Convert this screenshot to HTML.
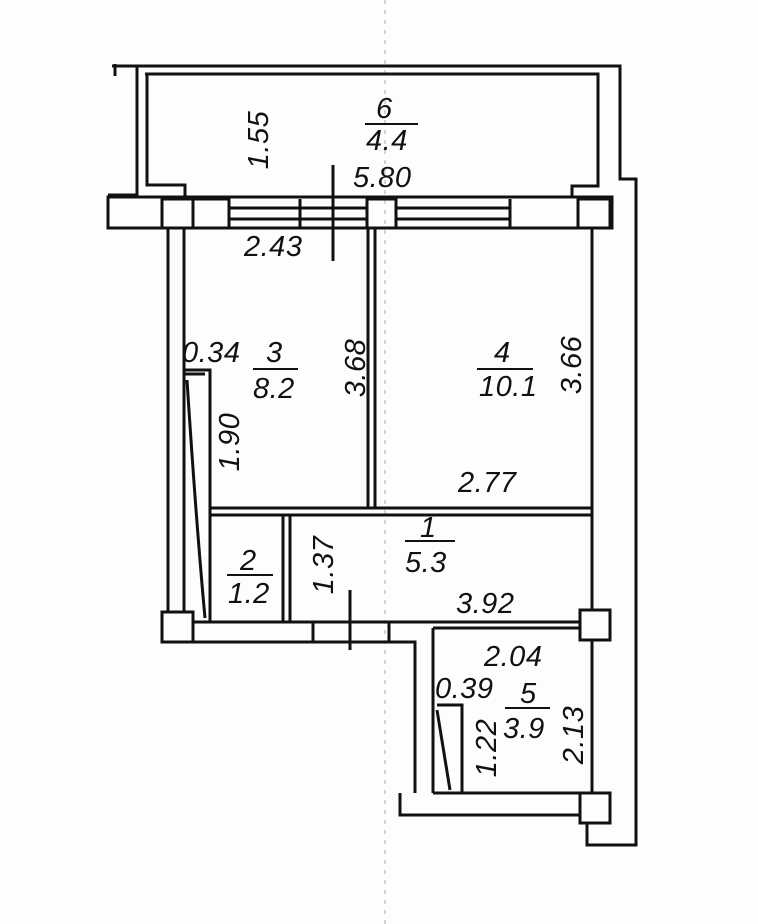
<!DOCTYPE html>
<html><head><style>
html,body{margin:0;padding:0;background:#fff;}
svg{display:block}
text{font-family:"Liberation Sans",sans-serif;font-style:italic;font-size:29px;fill:#111;letter-spacing:0.5px}
</style></head><body>
<svg width="758" height="924" viewBox="0 0 758 924" xmlns="http://www.w3.org/2000/svg">
<rect width="758" height="924" fill="#fdfdfd"/>
<line x1="385" y1="0" x2="385" y2="924" stroke="#aaa" stroke-width="1" stroke-dasharray="4,6"/>
<g fill="none" stroke="#111" stroke-width="3">
<polyline points="112,66 620,66 620,179 636,179 636,845 587,845 587,823"/>
<polyline points="145,74 598,74 598,186 572,186 572,197"/>
<polyline points="137,66 137,195 108,195"/>
<polyline points="147,74 147,185 185,185 185,197"/>
<line x1="115" y1="64" x2="115" y2="76"/>
<rect x="108" y="197" width="504" height="31"/>
<rect x="162" y="199" width="31" height="29"/>
<rect x="193" y="199" width="36" height="29"/>
<rect x="367" y="199" width="29" height="29"/>
<rect x="578" y="199" width="32" height="29"/>
<line x1="229" y1="208" x2="367" y2="208"/><line x1="229" y1="219" x2="367" y2="219"/>
<line x1="397" y1="208" x2="510" y2="208"/><line x1="397" y1="219" x2="510" y2="219"/>
<line x1="300" y1="199" x2="300" y2="228"/><line x1="510" y1="199" x2="510" y2="228"/>
<line x1="333" y1="165" x2="333" y2="261"/>
<line x1="168" y1="228" x2="168" y2="612"/>
<line x1="184" y1="228" x2="184" y2="612"/>
<line x1="368" y1="228" x2="368" y2="508"/>
<line x1="375" y1="228" x2="375" y2="508"/>
<line x1="592" y1="228" x2="592" y2="610"/>
<line x1="210" y1="508" x2="592" y2="508"/>
<line x1="210" y1="515" x2="592" y2="515"/>
<polyline points="185,370 210,370 210,622"/>
<line x1="185" y1="374" x2="205" y2="374"/>
<path d="M187,380 Q196,520 205,618"/>
<line x1="210" y1="515" x2="210" y2="622"/>
<line x1="283" y1="515" x2="283" y2="622"/>
<line x1="290" y1="515" x2="290" y2="622"/>
<rect x="162" y="612" width="31" height="30"/>
<polyline points="193,622 580,622"/>
<polyline points="193,642 415,642 415,793"/>
<line x1="313" y1="622" x2="313" y2="642"/>
<line x1="389" y1="622" x2="389" y2="642"/>
<line x1="350" y1="590" x2="350" y2="650"/>
<line x1="433" y1="628" x2="433" y2="793"/>
<line x1="433" y1="628" x2="580" y2="628"/>
<rect x="580" y="610" width="30" height="30"/>
<polyline points="437,705 462,705 462,793"/>
<path d="M437,710 L450,790"/>
<line x1="433" y1="793" x2="580" y2="793"/>
<polyline points="400,793 400,815 580,815"/>
<rect x="580" y="793" width="30" height="30"/>
<line x1="592" y1="640" x2="592" y2="793"/>
</g>
<g stroke="#111" stroke-width="2">
<line x1="365" y1="124" x2="418" y2="124"/>
<line x1="253" y1="369" x2="298" y2="369"/>
<line x1="477" y1="369" x2="533" y2="369"/>
<line x1="227" y1="575" x2="273" y2="575"/>
<line x1="405" y1="541" x2="455" y2="541"/>
<line x1="505" y1="708" x2="550" y2="708"/>
</g>
<text x="376" y="118">6</text>
<text x="366" y="150">4.4</text>
<text x="353" y="187">5.80</text>
<text x="268" y="140" transform="rotate(-90 268 140)" text-anchor="middle">1.55</text>
<text x="244" y="256">2.43</text>
<text x="182" y="362">0.34</text>
<text x="266" y="362">3</text>
<text x="253" y="398">8.2</text>
<text x="365" y="368" transform="rotate(-90 365 368)" text-anchor="middle">3.68</text>
<text x="239" y="442" transform="rotate(-90 239 442)" text-anchor="middle">1.90</text>
<text x="494" y="362">4</text>
<text x="479" y="396">10.1</text>
<text x="581" y="365" transform="rotate(-90 581 365)" text-anchor="middle">3.66</text>
<text x="458" y="492">2.77</text>
<text x="420" y="537">1</text>
<text x="405" y="572">5.3</text>
<text x="240" y="570">2</text>
<text x="228" y="603">1.2</text>
<text x="333" y="565" transform="rotate(-90 333 565)" text-anchor="middle">1.37</text>
<text x="456" y="613">3.92</text>
<text x="484" y="666">2.04</text>
<text x="435" y="698">0.39</text>
<text x="520" y="703">5</text>
<text x="503" y="738">3.9</text>
<text x="496" y="748" transform="rotate(-90 496 748)" text-anchor="middle">1.22</text>
<text x="583" y="735" transform="rotate(-90 583 735)" text-anchor="middle">2.13</text>
</svg>
</body></html>
